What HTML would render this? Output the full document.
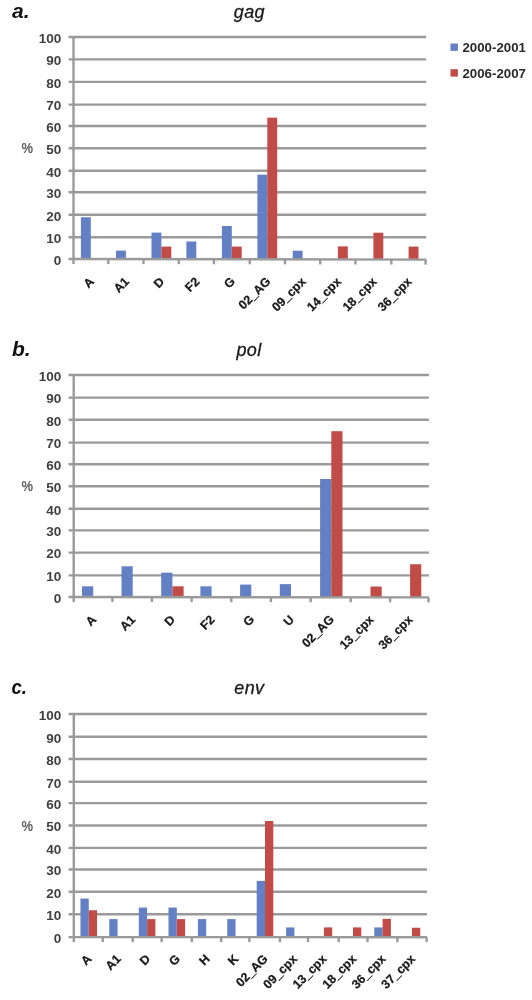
<!DOCTYPE html>
<html><head><meta charset="utf-8"><title>HIV subtypes</title>
<style>
html,body{margin:0;padding:0;background:#fff;}
body{width:532px;height:1000px;overflow:hidden;}
svg{display:block;}
text{font-family:"Liberation Sans",sans-serif;}
.lt{font-size:21px;font-weight:bold;font-style:italic;fill:#111;}
.tt{font-size:18px;font-style:italic;fill:#1a1a1a;stroke:#1a1a1a;stroke-width:0.3px;letter-spacing:0.3px;}
.yl{font-size:12.5px;font-weight:bold;fill:#404040;}
.xl{font-size:12.4px;font-weight:bold;fill:#1a1a1a;stroke:#1a1a1a;stroke-width:0.25px;}
.pc{font-size:13.4px;font-weight:bold;fill:#5e5e5e;}
.lg{font-size:12.2px;font-weight:bold;fill:#2a2a2a;}
.g{stroke:#9a9a9a;stroke-width:2.4;fill:none;}
</style></head>
<body><svg width="532" height="1000" viewBox="0 0 532 1000">
<text x="12" y="18" class="lt">a.</text>
<text x="249.3" y="18.2" class="tt" text-anchor="middle">gag</text>
<line x1="68.6" y1="237.2" x2="426.2" y2="237.2" class="g"/>
<line x1="68.6" y1="214.8" x2="426.2" y2="214.8" class="g"/>
<line x1="68.6" y1="192.3" x2="426.2" y2="192.3" class="g"/>
<line x1="68.6" y1="170.8" x2="426.2" y2="170.8" class="g"/>
<line x1="68.6" y1="148.3" x2="426.2" y2="148.3" class="g"/>
<line x1="68.6" y1="126" x2="426.2" y2="126" class="g"/>
<line x1="68.6" y1="104.6" x2="426.2" y2="104.6" class="g"/>
<line x1="68.6" y1="81.9" x2="426.2" y2="81.9" class="g"/>
<line x1="68.6" y1="59.4" x2="426.2" y2="59.4" class="g"/>
<line x1="68.6" y1="37" x2="426.2" y2="37" class="g"/>
<text transform="translate(61.3 264.7) scale(1.08 1)" class="yl" text-anchor="end">0</text>
<text transform="translate(61.3 242.9) scale(1.08 1)" class="yl" text-anchor="end">10</text>
<text transform="translate(61.3 220.5) scale(1.08 1)" class="yl" text-anchor="end">20</text>
<text transform="translate(61.3 198) scale(1.08 1)" class="yl" text-anchor="end">30</text>
<text transform="translate(61.3 176.5) scale(1.08 1)" class="yl" text-anchor="end">40</text>
<text transform="translate(61.3 154) scale(1.08 1)" class="yl" text-anchor="end">50</text>
<text transform="translate(61.3 131.7) scale(1.08 1)" class="yl" text-anchor="end">60</text>
<text transform="translate(61.3 110.3) scale(1.08 1)" class="yl" text-anchor="end">70</text>
<text transform="translate(61.3 87.6) scale(1.08 1)" class="yl" text-anchor="end">80</text>
<text transform="translate(61.3 65.1) scale(1.08 1)" class="yl" text-anchor="end">90</text>
<text transform="translate(61.3 42.7) scale(1.08 1)" class="yl" text-anchor="end">100</text>
<text transform="translate(21.6 153.3) scale(0.97 1.14)" class="pc">%</text>
<rect x="80.9" y="217.26" width="9.9" height="42.27" fill="#6380c4"/>
<rect x="116" y="250.61" width="9.9" height="8.99" fill="#6380c4"/>
<rect x="151.5" y="232.61" width="9.9" height="27.05" fill="#6380c4"/>
<rect x="161.4" y="246.57" width="9.9" height="13.08" fill="#c14c47"/>
<rect x="186.4" y="241.45" width="9.9" height="18.26" fill="#6380c4"/>
<rect x="221.9" y="226" width="9.9" height="33.77" fill="#6380c4"/>
<rect x="231.8" y="246.57" width="9.9" height="13.2" fill="#c14c47"/>
<rect x="257.4" y="174.67" width="9.9" height="85.16" fill="#6380c4"/>
<rect x="267.3" y="117.65" width="9.9" height="142.18" fill="#c14c47"/>
<rect x="292.7" y="250.72" width="9.9" height="9.18" fill="#6380c4"/>
<rect x="337.9" y="246.36" width="9.9" height="13.6" fill="#c14c47"/>
<rect x="373.4" y="232.72" width="9.9" height="27.29" fill="#c14c47"/>
<rect x="408.6" y="246.57" width="9.9" height="13.5" fill="#c14c47"/>
<line x1="73.5" y1="37" x2="73.5" y2="264" class="g"/>
<line x1="68.6" y1="259" x2="426.2" y2="259.6" class="g"/>
<line x1="108.3" y1="259.07" x2="108.3" y2="264.07" class="g"/>
<line x1="143.5" y1="259.13" x2="143.5" y2="264.13" class="g"/>
<line x1="178.7" y1="259.18" x2="178.7" y2="264.18" class="g"/>
<line x1="213.9" y1="259.24" x2="213.9" y2="264.24" class="g"/>
<line x1="249.75" y1="259.3" x2="249.75" y2="264.3" class="g"/>
<line x1="285" y1="259.36" x2="285" y2="264.36" class="g"/>
<line x1="320.2" y1="259.42" x2="320.2" y2="264.42" class="g"/>
<line x1="355.4" y1="259.48" x2="355.4" y2="264.48" class="g"/>
<line x1="391.35" y1="259.54" x2="391.35" y2="264.54" class="g"/>
<line x1="425.6" y1="259.6" x2="425.6" y2="264.6" class="g"/>
<text transform="translate(94.9 282.3) rotate(-45)" class="xl" text-anchor="end">A</text>
<text transform="translate(129.9 282.3) rotate(-45)" class="xl" text-anchor="end">A1</text>
<text transform="translate(165.1 282.3) rotate(-45)" class="xl" text-anchor="end">D</text>
<text transform="translate(200.3 282.3) rotate(-45)" class="xl" text-anchor="end">F2</text>
<text transform="translate(235.82 282.3) rotate(-45)" class="xl" text-anchor="end">G</text>
<text transform="translate(271.38 282.3) rotate(-45)" class="xl" text-anchor="end">02_AG</text>
<text transform="translate(306.6 282.3) rotate(-45)" class="xl" text-anchor="end">09_cpx</text>
<text transform="translate(341.8 282.3) rotate(-45)" class="xl" text-anchor="end">14_cpx</text>
<text transform="translate(377.38 282.3) rotate(-45)" class="xl" text-anchor="end">18_cpx</text>
<text transform="translate(412.48 282.3) rotate(-45)" class="xl" text-anchor="end">36_cpx</text>
<text x="12" y="355.8" class="lt">b.</text>
<text x="249" y="355.9" class="tt" text-anchor="middle">pol</text>
<line x1="68.6" y1="575.4" x2="428.9" y2="575.4" class="g"/>
<line x1="68.6" y1="552.6" x2="428.9" y2="552.6" class="g"/>
<line x1="68.6" y1="530.4" x2="428.9" y2="530.4" class="g"/>
<line x1="68.6" y1="508.8" x2="428.9" y2="508.8" class="g"/>
<line x1="68.6" y1="486.3" x2="428.9" y2="486.3" class="g"/>
<line x1="68.6" y1="464.2" x2="428.9" y2="464.2" class="g"/>
<line x1="68.6" y1="442.6" x2="428.9" y2="442.6" class="g"/>
<line x1="68.6" y1="419.8" x2="428.9" y2="419.8" class="g"/>
<line x1="68.6" y1="397.6" x2="428.9" y2="397.6" class="g"/>
<line x1="68.6" y1="375" x2="428.9" y2="375" class="g"/>
<text transform="translate(61.3 602.9) scale(1.08 1)" class="yl" text-anchor="end">0</text>
<text transform="translate(61.3 581.1) scale(1.08 1)" class="yl" text-anchor="end">10</text>
<text transform="translate(61.3 558.3) scale(1.08 1)" class="yl" text-anchor="end">20</text>
<text transform="translate(61.3 536.1) scale(1.08 1)" class="yl" text-anchor="end">30</text>
<text transform="translate(61.3 514.5) scale(1.08 1)" class="yl" text-anchor="end">40</text>
<text transform="translate(61.3 492) scale(1.08 1)" class="yl" text-anchor="end">50</text>
<text transform="translate(61.3 469.9) scale(1.08 1)" class="yl" text-anchor="end">60</text>
<text transform="translate(61.3 448.3) scale(1.08 1)" class="yl" text-anchor="end">70</text>
<text transform="translate(61.3 425.5) scale(1.08 1)" class="yl" text-anchor="end">80</text>
<text transform="translate(61.3 403.3) scale(1.08 1)" class="yl" text-anchor="end">90</text>
<text transform="translate(61.3 380.7) scale(1.08 1)" class="yl" text-anchor="end">100</text>
<text transform="translate(21.6 491.3) scale(0.97 1.14)" class="pc">%</text>
<rect x="82" y="586.3" width="11.2" height="11.23" fill="#6380c4"/>
<rect x="121.5" y="566.28" width="11.2" height="31.29" fill="#6380c4"/>
<rect x="161.2" y="572.66" width="11.2" height="24.95" fill="#6380c4"/>
<rect x="172.4" y="586.3" width="11.2" height="11.32" fill="#c14c47"/>
<rect x="200.4" y="586.3" width="11.2" height="11.36" fill="#6380c4"/>
<rect x="240.1" y="584.56" width="11.2" height="13.15" fill="#6380c4"/>
<rect x="279.8" y="584.12" width="11.2" height="13.63" fill="#6380c4"/>
<rect x="320.1" y="479.01" width="11.2" height="118.78" fill="#6380c4"/>
<rect x="331.3" y="431.2" width="11.2" height="166.59" fill="#c14c47"/>
<rect x="370.5" y="586.52" width="11.2" height="11.32" fill="#c14c47"/>
<rect x="410.1" y="564.23" width="11.2" height="33.65" fill="#c14c47"/>
<line x1="73.7" y1="375" x2="73.7" y2="602" class="g"/>
<line x1="68.6" y1="597" x2="428.9" y2="597.4" class="g"/>
<line x1="112.4" y1="597.05" x2="112.4" y2="602.05" class="g"/>
<line x1="151.9" y1="597.09" x2="151.9" y2="602.09" class="g"/>
<line x1="191.6" y1="597.14" x2="191.6" y2="602.14" class="g"/>
<line x1="231.3" y1="597.18" x2="231.3" y2="602.18" class="g"/>
<line x1="270.9" y1="597.22" x2="270.9" y2="602.22" class="g"/>
<line x1="310.7" y1="597.27" x2="310.7" y2="602.27" class="g"/>
<line x1="350.75" y1="597.31" x2="350.75" y2="602.31" class="g"/>
<line x1="390.1" y1="597.36" x2="390.1" y2="602.36" class="g"/>
<line x1="428.5" y1="597.4" x2="428.5" y2="602.4" class="g"/>
<text transform="translate(97.05 620.3) rotate(-45)" class="xl" text-anchor="end">A</text>
<text transform="translate(136.15 620.3) rotate(-45)" class="xl" text-anchor="end">A1</text>
<text transform="translate(175.75 620.3) rotate(-45)" class="xl" text-anchor="end">D</text>
<text transform="translate(215.45 620.3) rotate(-45)" class="xl" text-anchor="end">F2</text>
<text transform="translate(255.1 620.3) rotate(-45)" class="xl" text-anchor="end">G</text>
<text transform="translate(294.8 620.3) rotate(-45)" class="xl" text-anchor="end">U</text>
<text transform="translate(334.73 620.3) rotate(-45)" class="xl" text-anchor="end">02_AG</text>
<text transform="translate(374.43 620.3) rotate(-45)" class="xl" text-anchor="end">13_cpx</text>
<text transform="translate(413.3 620.3) rotate(-45)" class="xl" text-anchor="end">36_cpx</text>
<text transform="translate(11.6 693.8) scale(0.88 1)" class="lt">c.</text>
<text x="249.3" y="693.7" class="tt" text-anchor="middle">env</text>
<line x1="68.6" y1="914.3" x2="427" y2="914.3" class="g"/>
<line x1="68.6" y1="891.8" x2="427" y2="891.8" class="g"/>
<line x1="68.6" y1="869.5" x2="427" y2="869.5" class="g"/>
<line x1="68.6" y1="847.9" x2="427" y2="847.9" class="g"/>
<line x1="68.6" y1="825.5" x2="427" y2="825.5" class="g"/>
<line x1="68.6" y1="803.1" x2="427" y2="803.1" class="g"/>
<line x1="68.6" y1="781.8" x2="427" y2="781.8" class="g"/>
<line x1="68.6" y1="759" x2="427" y2="759" class="g"/>
<line x1="68.6" y1="736.8" x2="427" y2="736.8" class="g"/>
<line x1="68.6" y1="714" x2="427" y2="714" class="g"/>
<text transform="translate(61.3 942.8) scale(1.08 1)" class="yl" text-anchor="end">0</text>
<text transform="translate(61.3 920) scale(1.08 1)" class="yl" text-anchor="end">10</text>
<text transform="translate(61.3 897.5) scale(1.08 1)" class="yl" text-anchor="end">20</text>
<text transform="translate(61.3 875.2) scale(1.08 1)" class="yl" text-anchor="end">30</text>
<text transform="translate(61.3 853.6) scale(1.08 1)" class="yl" text-anchor="end">40</text>
<text transform="translate(61.3 831.2) scale(1.08 1)" class="yl" text-anchor="end">50</text>
<text transform="translate(61.3 808.8) scale(1.08 1)" class="yl" text-anchor="end">60</text>
<text transform="translate(61.3 787.5) scale(1.08 1)" class="yl" text-anchor="end">70</text>
<text transform="translate(61.3 764.7) scale(1.08 1)" class="yl" text-anchor="end">80</text>
<text transform="translate(61.3 742.5) scale(1.08 1)" class="yl" text-anchor="end">90</text>
<text transform="translate(61.3 719.7) scale(1.08 1)" class="yl" text-anchor="end">100</text>
<text transform="translate(21.6 830.5) scale(0.97 1.14)" class="pc">%</text>
<rect x="80.45" y="898.55" width="8.3" height="39.06" fill="#6380c4"/>
<rect x="88.75" y="910.25" width="8.3" height="27.36" fill="#c14c47"/>
<rect x="109.25" y="919.09" width="8.3" height="18.53" fill="#6380c4"/>
<rect x="138.8" y="907.55" width="8.3" height="30.07" fill="#6380c4"/>
<rect x="147.1" y="919.09" width="8.3" height="18.53" fill="#c14c47"/>
<rect x="168.5" y="907.55" width="8.3" height="30.08" fill="#6380c4"/>
<rect x="176.8" y="919.09" width="8.3" height="18.54" fill="#c14c47"/>
<rect x="197.9" y="919.09" width="8.3" height="18.55" fill="#6380c4"/>
<rect x="227.25" y="919.09" width="8.3" height="18.56" fill="#6380c4"/>
<rect x="256.7" y="880.87" width="8.3" height="56.78" fill="#6380c4"/>
<rect x="265" y="821.02" width="8.3" height="116.63" fill="#c14c47"/>
<rect x="286.1" y="927.41" width="8.3" height="10.25" fill="#6380c4"/>
<rect x="323.9" y="927.41" width="8.3" height="10.26" fill="#c14c47"/>
<rect x="353" y="927.41" width="8.3" height="10.27" fill="#c14c47"/>
<rect x="374.3" y="927.41" width="8.3" height="10.28" fill="#6380c4"/>
<rect x="382.6" y="918.86" width="8.3" height="18.83" fill="#c14c47"/>
<rect x="411.95" y="927.75" width="8.3" height="9.94" fill="#c14c47"/>
<line x1="73.8" y1="714" x2="73.8" y2="942.1" class="g"/>
<line x1="68.6" y1="937.1" x2="427" y2="937.2" class="g"/>
<line x1="102.7" y1="937.11" x2="102.7" y2="942.11" class="g"/>
<line x1="132.7" y1="937.12" x2="132.7" y2="942.12" class="g"/>
<line x1="161.6" y1="937.13" x2="161.6" y2="942.13" class="g"/>
<line x1="191.8" y1="937.13" x2="191.8" y2="942.13" class="g"/>
<line x1="221.2" y1="937.14" x2="221.2" y2="942.14" class="g"/>
<line x1="249.4" y1="937.15" x2="249.4" y2="942.15" class="g"/>
<line x1="279.9" y1="937.16" x2="279.9" y2="942.16" class="g"/>
<line x1="308" y1="937.17" x2="308" y2="942.17" class="g"/>
<line x1="338.7" y1="937.18" x2="338.7" y2="942.18" class="g"/>
<line x1="367.5" y1="937.18" x2="367.5" y2="942.18" class="g"/>
<line x1="397.4" y1="937.19" x2="397.4" y2="942.19" class="g"/>
<line x1="426.6" y1="937.2" x2="426.6" y2="942.2" class="g"/>
<text transform="translate(92.25 959.7) rotate(-45)" class="xl" text-anchor="end">A</text>
<text transform="translate(121.7 959.7) rotate(-45)" class="xl" text-anchor="end">A1</text>
<text transform="translate(151.15 959.7) rotate(-45)" class="xl" text-anchor="end">D</text>
<text transform="translate(180.7 959.7) rotate(-45)" class="xl" text-anchor="end">G</text>
<text transform="translate(210.5 959.7) rotate(-45)" class="xl" text-anchor="end">H</text>
<text transform="translate(239.3 959.7) rotate(-45)" class="xl" text-anchor="end">K</text>
<text transform="translate(268.65 959.7) rotate(-45)" class="xl" text-anchor="end">02_AG</text>
<text transform="translate(297.95 959.7) rotate(-45)" class="xl" text-anchor="end">09_cpx</text>
<text transform="translate(327.35 959.7) rotate(-45)" class="xl" text-anchor="end">13_cpx</text>
<text transform="translate(357.1 959.7) rotate(-45)" class="xl" text-anchor="end">18_cpx</text>
<text transform="translate(386.45 959.7) rotate(-45)" class="xl" text-anchor="end">36_cpx</text>
<text transform="translate(416 959.7) rotate(-45)" class="xl" text-anchor="end">37_cpx</text>
<rect x="450.5" y="43.5" width="7.4" height="7.4" fill="#6380c4"/>
<text transform="translate(462.4 52.2) scale(1.09 1)" class="lg">2000-2001</text>
<rect x="450.5" y="69.2" width="7.4" height="7.4" fill="#c14c47"/>
<text transform="translate(462.4 77.7) scale(1.09 1)" class="lg">2006-2007</text>
</svg></body></html>
